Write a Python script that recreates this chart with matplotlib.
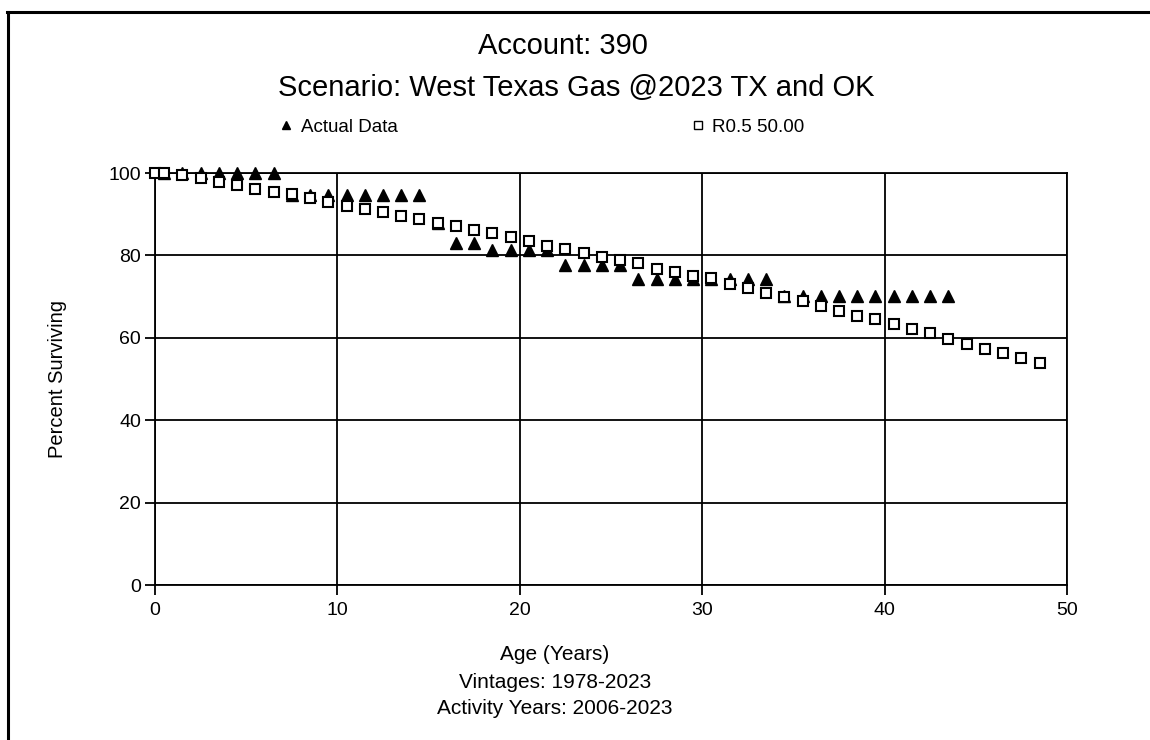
import numpy as np
import matplotlib
matplotlib.use("Agg")
import matplotlib.pyplot as plt
from matplotlib.lines import Line2D

plt.rcParams['font.family'] = ['Liberation Sans', 'DejaVu Sans']

# actual data (observed life table)
actual_age = [0.5, 1.5, 2.5, 3.5, 4.5, 5.5, 6.5,
              7.5, 8.5, 9.5, 10.5, 11.5, 12.5, 13.5, 14.5,
              15.5, 16.5, 17.5, 18.5, 19.5, 20.5, 21.5,
              22.5, 23.5, 24.5, 25.5,
              26.5, 27.5, 28.5, 29.5, 30.5, 31.5, 32.5, 33.5,
              34.5, 35.5, 36.5, 37.5, 38.5, 39.5, 40.5, 41.5, 42.5, 43.5]
actual_pct = [100, 100, 100, 100, 100, 100, 100,
              94.7, 94.7, 94.7, 94.7, 94.7, 94.7, 94.7, 94.7,
              87.9, 82.9, 82.9, 81.3, 81.3, 81.3, 81.3,
              77.7, 77.7, 77.7, 77.7,
              74.2, 74.2, 74.2, 74.2, 74.2, 74.2, 74.2, 74.2,
              70.2, 70.2, 70.2, 70.2, 70.2, 70.2, 70.2, 70.2, 70.2, 70.2]

# fitted curve R0.5 50.00
curve_age = [0, 0.5, 1.5, 2.5, 3.5, 4.5, 5.5, 6.5, 7.5, 8.5, 9.5,
             10.5, 11.5, 12.5, 13.5, 14.5, 15.5, 16.5, 17.5, 18.5, 19.5,
             20.5, 21.5, 22.5, 23.5, 24.5, 25.5, 26.5, 27.5, 28.5, 29.5,
             30.5, 31.5, 32.5, 33.5, 34.5, 35.5, 36.5, 37.5, 38.5, 39.5,
             40.5, 41.5, 42.5, 43.5, 44.5, 45.5, 46.5, 47.5, 48.5]
curve_pct = [100, 99.9, 99.4, 98.7, 97.9, 97.1, 96.1, 95.5, 94.8, 93.9, 93.0,
             92.0, 91.2, 90.5, 89.6, 88.9, 87.9, 87.1, 86.2, 85.5, 84.4,
             83.5, 82.4, 81.5, 80.7, 79.7, 78.9, 78.1, 76.8, 75.9, 75.0,
             74.4, 73.0, 72.0, 70.8, 69.8, 69.0, 67.6, 66.6, 65.3, 64.5,
             63.3, 62.1, 61.2, 59.7, 58.5, 57.4, 56.2, 55.0, 54.0]

x_ticks = [0, 10, 20, 30, 40, 50]
y_ticks = [0, 20, 40, 60, 80, 100]

fig = plt.figure(figsize=(11.5, 7.4), dpi=100)
ax = fig.add_axes([155 / 1150, 1 - 585 / 740, 912 / 1150, 412 / 740])

ax.set_xlim(0, 50)
ax.set_ylim(0, 100)
ax.set_xticks(x_ticks)
ax.set_yticks(y_ticks)
ax.grid(True, color='black', linewidth=1.3)
ax.set_axisbelow(True)
for s in ax.spines.values():
    s.set_linewidth(1.3)
ax.tick_params(axis='both', labelsize=14, width=1.3, length=7, direction='out')
ax.tick_params(axis='x', pad=5)
ax.tick_params(axis='y', pad=3)

ax.plot(actual_age, actual_pct, linestyle='none', marker='^', markersize=8.5,
        color='black', clip_on=False, zorder=3)
ax.plot(curve_age, curve_pct, linestyle='none', marker='s', markersize=7.5,
        markerfacecolor='white', markeredgecolor='black', markeredgewidth=1.5,
        clip_on=False, zorder=4)

ax.set_ylabel('Percent Surviving', fontsize=14.5, labelpad=30)

fig.text(563 / 1150, 1 - 46 / 740, 'Account: 390', fontsize=21, ha='center', va='center')
fig.text(576 / 1150, 1 - 88 / 740, 'Scenario: West Texas Gas @2023 TX and OK',
         fontsize=21, ha='center', va='center')

handles = [
    Line2D([], [], linestyle='none', marker='^', markersize=6, color='black'),
    Line2D([], [], linestyle='none', marker='s', markersize=6,
           markerfacecolor='white', markeredgecolor='black', markeredgewidth=1),
]
fig.legend(handles, ['Actual Data', 'R0.5 50.00'], ncol=2, frameon=False,
           loc='center', bbox_to_anchor=(0.47, 1 - 127 / 740), fontsize=13.5,
           columnspacing=15.5, handletextpad=0.3, handlelength=1)

cx = 555 / 1150
fig.text(cx, 1 - 655 / 740, 'Age (Years)', fontsize=15, ha='center', va='center')
fig.text(cx, 1 - 682 / 740, 'Vintages: 1978-2023', fontsize=15, ha='center', va='center')
fig.text(cx, 1 - 708 / 740, 'Activity Years: 2006-2023', fontsize=15, ha='center', va='center')

# page frame (top and left edges)
fig.add_artist(Line2D([7 / 1150, 1], [1 - 12 / 740, 1 - 12 / 740], color='black', linewidth=2.2))
fig.add_artist(Line2D([8 / 1150, 8 / 1150], [0, 1 - 12 / 740], color='black', linewidth=2.2))

fig.savefig('out.png', dpi=100)
